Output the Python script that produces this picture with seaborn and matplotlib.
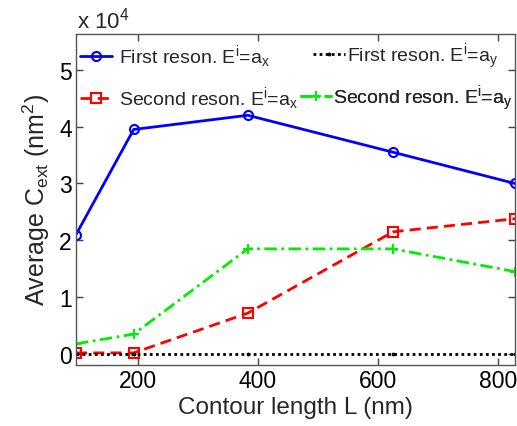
import numpy as np
import pandas as pd
import matplotlib
matplotlib.use("Agg")
import matplotlib.pyplot as plt
import seaborn as sns
from matplotlib.ticker import FuncFormatter

# Contour lengths (nm) and average extinction cross sections (nm^2)
contour_length = [97, 193, 383, 625, 828]
first_ax = [21000, 39500, 42000, 35500, 30000]
first_ay = [0, 0, 0, 0, 0]
second_ax = [200, 200, 7200, 21500, 23800]
second_ay = [1800, 3500, 18500, 18500, 14500]

x_ticks = [200, 400, 600, 800]
y_ticks = [0, 10000, 20000, 30000, 40000, 50000]

sns.set_style("ticks")
plt.rcParams["font.family"] = ["Liberation Sans", "DejaVu Sans"]
plt.rcParams["mathtext.fontset"] = "custom"
plt.rcParams["mathtext.rm"] = "Liberation Sans"
plt.rcParams["mathtext.it"] = "Liberation Sans"

df = pd.DataFrame({
    "L": contour_length,
    "first_ax": first_ax,
    "first_ay": first_ay,
    "second_ax": second_ax,
    "second_ay": second_ay,
})

W, H = 517, 427
fig = plt.figure(figsize=(W / 100, H / 100), dpi=100)
ax = fig.add_axes([76 / W, 1 - 366 / H, (515 - 76) / W, (366 - 35) / H])

series = [
    ("first_ax", r"First reson. E$^{\rm i}$=a$_{\rm x}$",
     dict(color="#0000ff", linestyle="-", marker="o", markersize=6.5,
          markerfacecolor="none", markeredgecolor="#0000ff",
          markeredgewidth=1.5)),
    ("second_ax", r"Second reson. E$^{\rm i}$=a$_{\rm x}$",
     dict(color="#ff0000", linestyle=(0, (4, 2.2)), marker="s", markersize=7.5,
          markerfacecolor="none", markeredgecolor="#ff0000",
          markeredgewidth=1.5)),
    ("first_ay", r"First reson. E$^{\rm i}$=a$_{\rm y}$",
     dict(color="black", linestyle=(0, (1, 1.2)), marker=".", markersize=4,
          markeredgecolor="black")),
    ("second_ay", r"Second reson. E$^{\rm i}$=a$_{\rm y}$",
     dict(color="#00ee00", linestyle=(0, (4.5, 1.6, 1, 1.6)), marker="+",
          markersize=7.5, markeredgecolor="#00ee00", markeredgewidth=1.5)),
]

for col, label, style in series:
    sns.lineplot(data=df, x="L", y=col, ax=ax, label=label, linewidth=2.0,
                 **style)

ax.set_xlim(97, 828)
ax.set_ylim(-1930, 56300)
ax.set_xticks(x_ticks)
ax.set_yticks(y_ticks)
ax.yaxis.set_major_formatter(FuncFormatter(lambda v, p: f"{v/1e4:g}"))
ax.tick_params(direction="in", length=5, width=1, colors="#444444",
               labelcolor="black", labelsize=16.5, top=True, right=True,
               pad=3)
for s in ax.spines.values():
    s.set_color("#555555")
    s.set_linewidth(1.0)

ax.set_xlabel("Contour length L (nm)", fontsize=17.5, labelpad=3)
ax.set_ylabel(r"Average C$_{\rm ext}$ (nm$^2$)", fontsize=18, labelpad=5)
fig.text(77 / W, 1 - 29 / H, r"x 10$^4$", fontsize=16, ha="left",
         va="baseline")

# legend entries placed individually (two rows, two columns)
handles, labels = ax.get_legend_handles_labels()
ax.get_legend().remove()
anchors = [(80, 57), (80, 99), (313, 57), (300, 99)]
pads = [0.35, 0.35, 0.1, 0.05]
for h, lab, (px, py), tp in zip(handles, labels, anchors, pads):
    lg = ax.legend([h], [lab], loc="center left",
                   bbox_to_anchor=(px / W, 1 - py / H),
                   bbox_transform=fig.transFigure, frameon=False,
                   fontsize=14, handlelength=1.65, handletextpad=tp,
                   borderpad=0, borderaxespad=0)
    ax.add_artist(lg)

fig.savefig("out.png", dpi=100)
